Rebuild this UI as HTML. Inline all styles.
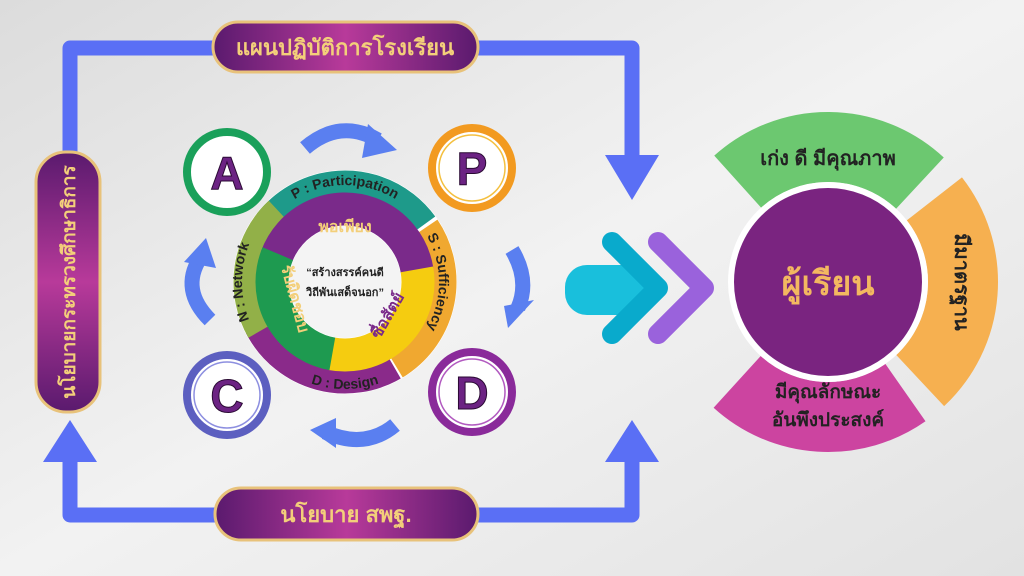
<!DOCTYPE html>
<html><head><meta charset="utf-8"><style>
html,body{margin:0;padding:0;width:1024px;height:576px;overflow:hidden}
svg{display:block}
text{font-family:"Liberation Sans","Noto Sans CJK SC",sans-serif;font-weight:bold}
</style></head><body>
<svg width="1024" height="576" viewBox="0 0 1024 576" xmlns="http://www.w3.org/2000/svg">
<defs>
<linearGradient id="bg" x1="0" y1="0" x2="1" y2="1"><stop offset="0" stop-color="#dcdcdc"/><stop offset="0.5" stop-color="#f2f2f2"/><stop offset="1" stop-color="#e2e2e2"/></linearGradient>
<linearGradient id="pill" x1="0" y1="0" x2="1" y2="0"><stop offset="0" stop-color="#5a1a6e"/><stop offset="0.5" stop-color="#b83a9a"/><stop offset="1" stop-color="#5a1a6e"/></linearGradient>
<linearGradient id="pillv" x1="0" y1="0" x2="0" y2="1"><stop offset="0" stop-color="#5a1a6e"/><stop offset="0.5" stop-color="#b83a9a"/><stop offset="1" stop-color="#5a1a6e"/></linearGradient>
<path id="topArc" d="M 248 282 A 97 97 0 0 1 442 282"/>
<path id="rightArc" d="M 345 188 A 94 94 0 0 1 345 376"/>
<path id="botArc" d="M 238 282 A 107 107 0 0 0 452 282"/>
<path id="leftArc" d="M 345 385 A 103 103 0 0 1 345 179"/>
</defs>
<rect width="1024" height="576" fill="url(#bg)"/>

<g stroke="#5a6ff5" stroke-width="15" fill="none" stroke-linejoin="round">
<path d="M 70 160 V 48 H 632 V 160"/>
<path d="M 70 455 V 515 H 632 V 440"/>
</g>
<polygon points="605,155 659,155 632,200" fill="#5a6ff5"/>
<polygon points="43,462 97,462 70,420" fill="#5a6ff5"/>
<polygon points="605,462 659,462 632,420" fill="#5a6ff5"/>

<rect x="213" y="22" width="265" height="50" rx="25" fill="url(#pill)" stroke="#e8c27a" stroke-width="3"/>
<text x="345" y="55" text-anchor="middle" font-size="22" fill="#f3cf7a">แผนปฏิบัติการโรงเรียน</text>
<rect x="215" y="488" width="263" height="52" rx="26" fill="url(#pill)" stroke="#e8c27a" stroke-width="3"/>
<text x="346" y="522" text-anchor="middle" font-size="22" fill="#f3cf7a">นโยบาย สพฐ.</text>
<rect x="36" y="152" width="64" height="260" rx="30" fill="url(#pillv)" stroke="#e8c27a" stroke-width="3"/>
<text transform="translate(75,282) rotate(-90)" text-anchor="middle" font-size="19" fill="#f3cf7a">นโยบายกระทรวงศึกษาธิการ</text>

<g fill="none" stroke="#5a7ff0" stroke-width="15">
<path d="M 305 148 Q 340 118 378 140"/>
<path d="M 512 250 Q 530 280 518 308"/>
<path d="M 395 425 Q 365 450 325 432"/>
<path d="M 210 320 Q 180 290 200 258"/>
</g>
<polygon points="368,124 397,150 362,158" fill="#5a7ff0"/>
<polygon points="504,306 534,300 508,328" fill="#5a7ff0"/>
<polygon points="336,418 310,430 336,448" fill="#5a7ff0"/>
<polygon points="184,262 206,238 216,268" fill="#5a7ff0"/>

<g font-size="46" text-anchor="middle" fill="#6c2383" stroke="#2a0a33" stroke-width="1">
<circle cx="227" cy="172" r="40" fill="#fff" stroke="#1aa05a" stroke-width="8"/>
<text x="227" y="189">A</text>
<circle cx="472" cy="168" r="40" fill="#fff" stroke="#f29a20" stroke-width="8"/>
<circle cx="472" cy="168" r="33" fill="none" stroke="#f4c040" stroke-width="1.5"/>
<text x="472" y="185">P</text>
<circle cx="227" cy="395" r="40" fill="#fff" stroke="#5c5fc0" stroke-width="8"/>
<circle cx="227" cy="395" r="33" fill="none" stroke="#8d8fe0" stroke-width="1.5"/>
<text x="227" y="412">C</text>
<circle cx="472" cy="392" r="40" fill="#fff" stroke="#8a2a9a" stroke-width="8"/>
<circle cx="472" cy="392" r="33" fill="none" stroke="#b25ac0" stroke-width="1.5"/>
<text x="472" y="409">D</text>
</g>

<circle cx="345" cy="282" r="112" fill="#fff"/>
<g fill="none" stroke-width="23">
<circle cx="345" cy="282" r="100" stroke="#1e9a8a" stroke-dasharray="185 1000" transform="rotate(-142 345 282)"/>
<circle cx="345" cy="282" r="100" stroke="#f0a830" stroke-dasharray="162 1000" transform="rotate(-34 345 282)"/>
<circle cx="345" cy="282" r="100" stroke="#8a2a8a" stroke-dasharray="162 1000" transform="rotate(60 345 282)"/>
<circle cx="345" cy="282" r="100" stroke="#92b048" stroke-dasharray="134 1000" transform="rotate(150 345 282)"/>
</g>
<g fill="none" stroke-width="33">
<circle cx="345" cy="282" r="73" stroke="#7a2a8a" stroke-dasharray="192 1000" transform="rotate(-160 345 282)"/>
<circle cx="345" cy="282" r="73" stroke="#f5cc10" stroke-dasharray="141 1000" transform="rotate(-10 345 282)"/>
<circle cx="345" cy="282" r="73" stroke="#1e9a50" stroke-dasharray="131 1000" transform="rotate(100 345 282)"/>
</g>
<circle cx="345" cy="282" r="56" fill="#f4f4f4"/>
<text x="345" y="276" text-anchor="middle" font-size="11" fill="#222">“สร้างสรรค์คนดี</text>
<text x="345" y="296" text-anchor="middle" font-size="11" fill="#222">วิถีพันเสด็จนอก”</text>
<g font-size="14" font-weight="normal" fill="#222">
<text><textPath href="#topArc" startOffset="50%" text-anchor="middle">P : Participation</textPath></text>
<text><textPath href="#rightArc" startOffset="50%" text-anchor="middle">S : Sufficiency</textPath></text>
<text><textPath href="#botArc" startOffset="50%" text-anchor="middle">D : Design</textPath></text>
<text><textPath href="#leftArc" startOffset="50%" text-anchor="middle">N : Network</textPath></text>
</g>
<text x="345" y="232" text-anchor="middle" font-size="16" fill="#f3cf7a">พอเพียง</text>
<text transform="translate(392,318) rotate(-60)" text-anchor="middle" font-size="16" fill="#7a2a8a">ซื่อสัตย์</text>
<text transform="translate(290,300) rotate(75)" text-anchor="middle" font-size="16" fill="#f3cf7a">รับผิดชอบ</text>

<rect x="565" y="265" width="85" height="50" rx="22" fill="#19bfdc"/>
<polyline points="612,242 658,288 612,334" fill="none" stroke="#09aacc" stroke-width="20" stroke-linecap="round" stroke-linejoin="round"/>
<polyline points="658,242 704,288 658,334" fill="none" stroke="#9a62dc" stroke-width="20" stroke-linecap="round" stroke-linejoin="round"/>

<g fill="none" stroke-width="70">
<circle cx="828" cy="282" r="135" stroke="#6cc870" stroke-dasharray="200 1000" transform="rotate(-132 828 282)"/>
<circle cx="828" cy="282" r="135" stroke="#f6b050" stroke-dasharray="200 1000" transform="rotate(-38 828 282)"/>
<circle cx="828" cy="282" r="135" stroke="#cc44a0" stroke-dasharray="182 1000" transform="rotate(55 828 282)"/>
</g>
<circle cx="828" cy="282" r="97" fill="#7a2480" stroke="#fff" stroke-width="6"/>
<text x="828" y="295" text-anchor="middle" font-size="34" fill="#f3b860">ผู้เรียน</text>
<text x="828" y="165" text-anchor="middle" font-size="20" fill="#222" font-weight="normal">เก่ง ดี มีคุณภาพ</text>
<text transform="translate(955,282) rotate(90)" text-anchor="middle" font-size="20" fill="#222" font-weight="normal">มีมาตรฐาน</text>
<text x="828" y="398" text-anchor="middle" font-size="19" fill="#222" font-weight="normal">มีคุณลักษณะ</text>
<text x="828" y="426" text-anchor="middle" font-size="19" fill="#222" font-weight="normal">อันพึงประสงค์</text>
</svg>
</body></html>
